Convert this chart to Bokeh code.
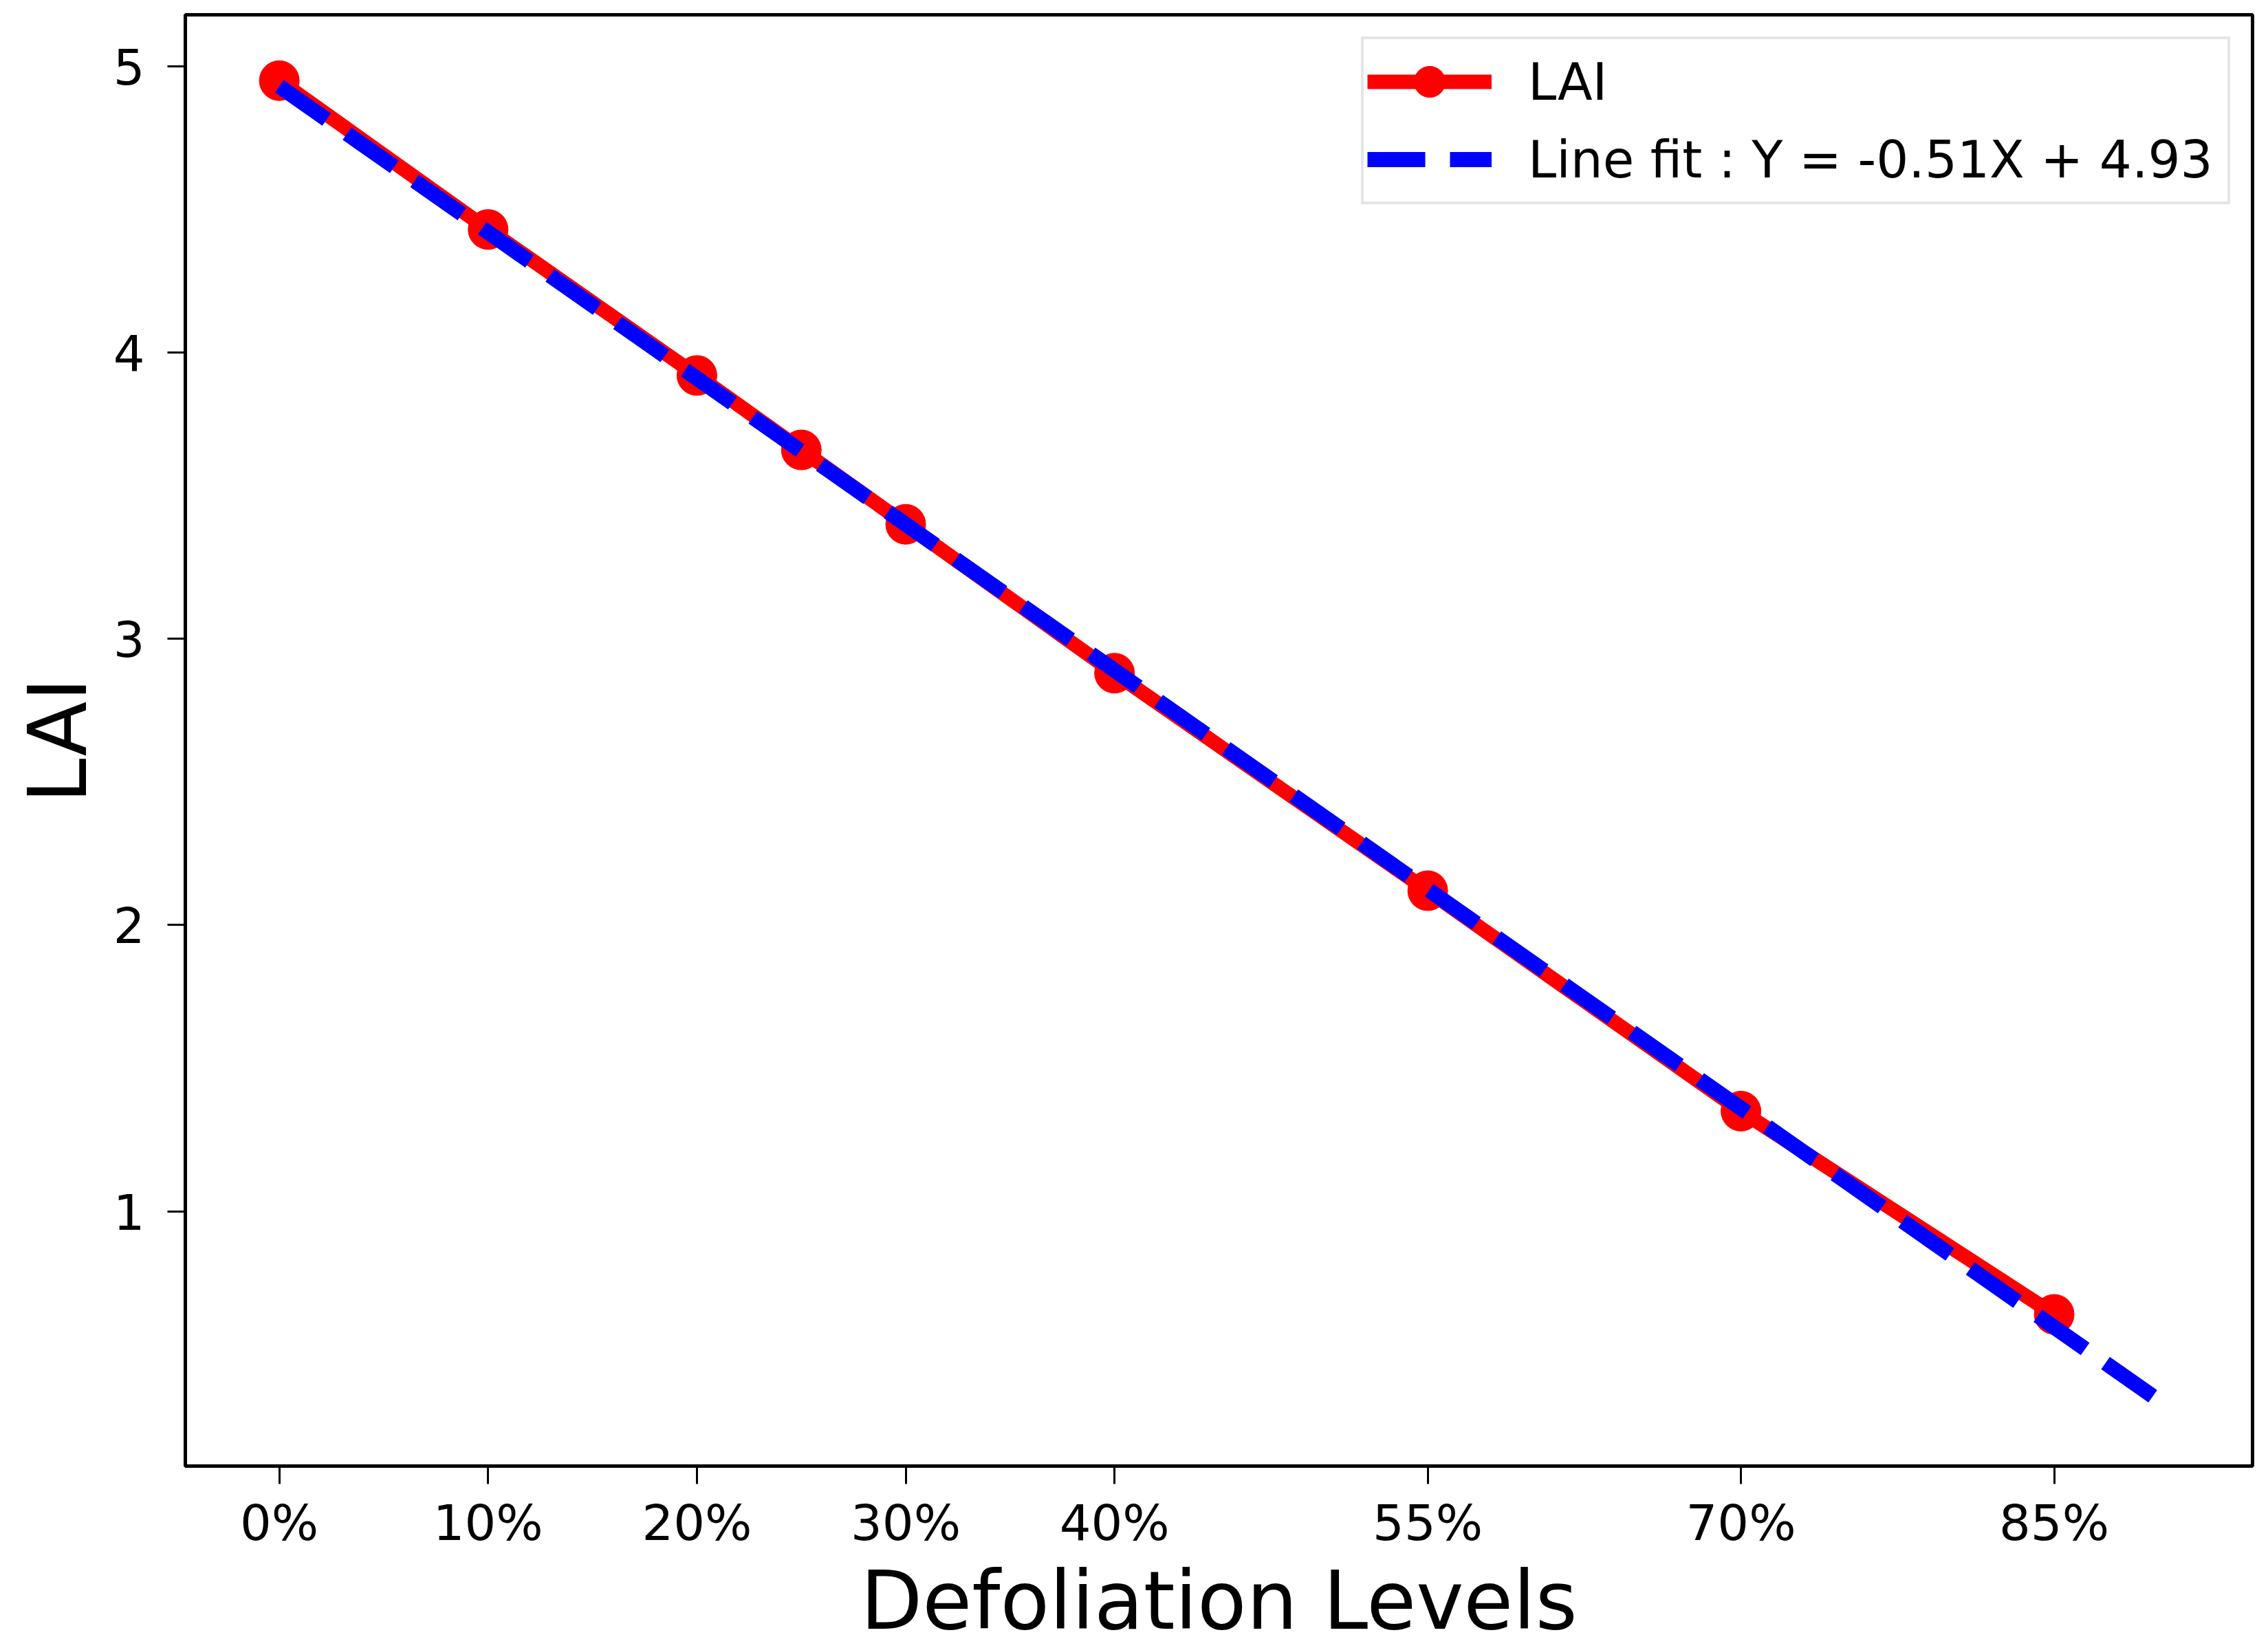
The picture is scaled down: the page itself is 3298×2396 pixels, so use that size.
from bokeh.plotting import figure
from bokeh.models import FixedTicker, Range1d, Legend, LegendItem
from bokeh.embed import file_html
from bokeh.resources import INLINE

# ---- data ----
defoliation_pct = [0, 10, 20, 25, 30, 40, 55, 70, 85]
lai_values = [4.95, 4.43, 3.92, 3.66, 3.40, 2.88, 2.12, 1.35, 0.64]
fit_x = [0, 90]
fit_y = [4.93, 0.34]
x_tick_values = [0, 10, 20, 30, 40, 55, 70, 85]
x_tick_labels = ["0%", "10%", "20%", "30%", "40%", "55%", "70%", "85%"]
y_tick_values = [1, 2, 3, 4, 5]
fit_label = "Line fit : Y = -0.51X + 4.93"

FONT = "DejaVu Sans"

p = figure(
    output_backend="svg", toolbar_location=None,
    frame_width=3006, frame_height=2110,
    min_border_left=269, min_border_top=21, min_border_right=8, min_border_bottom=200,
    x_range=Range1d(-4.5, 94.5), y_range=Range1d(0.11, 5.18),
    background_fill_color="white", border_fill_color="white",
)
p.xgrid.visible = False
p.ygrid.visible = False
p.outline_line_color = "black"
p.outline_line_width = 5

for ax in (p.xaxis[0], p.yaxis[0]):
    ax.axis_line_color = "black"
    ax.axis_line_width = 5
    ax.major_tick_out = 26
    ax.major_tick_in = 0
    ax.major_tick_line_width = 3
    ax.minor_tick_line_color = None
    ax.major_label_text_font = FONT
    ax.major_label_text_font_size = "72px"
    ax.major_label_text_color = "black"
    ax.axis_label_text_font = FONT
    ax.axis_label_text_font_size = "117px"
    ax.axis_label_text_font_style = "normal"
    ax.axis_label_text_color = "black"

p.xaxis.ticker = FixedTicker(ticks=x_tick_values)
p.xaxis.major_label_overrides = {v: s for v, s in zip(x_tick_values, x_tick_labels)}
p.xaxis.major_label_standoff = 14
p.xaxis.axis_label = "Defoliation Levels"
p.xaxis.axis_label_standoff = 0

p.yaxis.ticker = FixedTicker(ticks=y_tick_values)
p.yaxis.major_label_standoff = 33
p.yaxis.axis_label = "LAI"
p.yaxis.axis_label_standoff = 9

r_line = p.line(defoliation_pct, lai_values, line_color="#ff0000", line_width=21)
r_pts = p.scatter(defoliation_pct, lai_values, marker="circle", size=58,
                  fill_color="#ff0000", line_color="#ff0000")
r_fit = p.line(fit_x, fit_y, line_color="#0000ff", line_width=22, line_dash="84 36")

legend = Legend(
    items=[LegendItem(label="LAI", renderers=[r_line, r_pts]),
           LegendItem(label=fit_label, renderers=[r_fit])],
    location="top_right",
    label_text_font=FONT, label_text_font_size="74px", label_text_color="black",
    glyph_width=181, glyph_height=113, label_height=86, label_width=1012,
    label_standoff=53, spacing=0, padding=5, margin=32,
    border_line_color="#cccccc", border_line_width=4,
    background_fill_color="white", background_fill_alpha=0.8,
)
p.add_layout(legend)

open("out.html", "w").write(file_html(p, INLINE))
